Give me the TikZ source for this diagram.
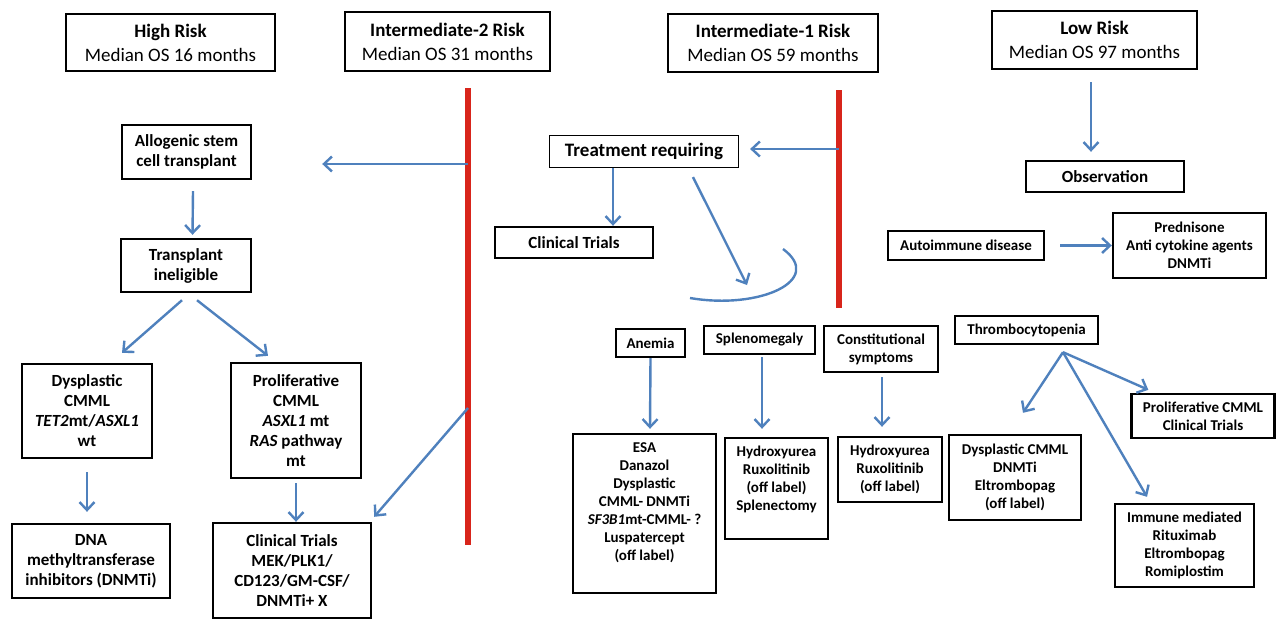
\documentclass[tikz,border=0pt]{standalone}
\usepackage{fontspec}
\setmainfont{Carlito}
\usetikzlibrary{arrows.meta}
\definecolor{arrblue}{RGB}{79,129,189}
\definecolor{riskred}{RGB}{216,37,27}
\begin{document}
\begin{tikzpicture}[x=1pt,y=-1pt,
  box/.style={draw, line width=2.4pt, align=center, inner sep=0pt},
  hdr/.style={box, font=\fontsize{19}{24}\selectfont},
  bl/.style={box, font=\bfseries\fontsize{17}{20}\selectfont},
  bs/.style={box, font=\bfseries\fontsize{15}{18}\selectfont},
  conn/.style={draw=arrblue, line width=2.4pt},
  arr/.style={conn, -{Straight Barb[length=8pt,width=15pt]}},
  redline/.style={draw=riskred, line width=6pt}]
\useasboundingbox[fill=white] (0,0) rectangle (1278,621);

% headers
\node[hdr, minimum width=209pt, minimum height=57pt] (high) at (170.5,42.5) {\textbf{High Risk}\\Median OS 16 months};
\node[hdr, minimum width=205pt, minimum height=59pt] (int2) at (447.5,41.5) {\textbf{Intermediate-2 Risk}\\Median OS 31 months};
\node[hdr, minimum width=210pt, minimum height=58pt] (int1) at (773,43) {\textbf{Intermediate-1 Risk}\\Median OS 59 months};
\node[hdr, minimum width=205pt, minimum height=58pt] (low) at (1094.5,40) {\textbf{Low Risk}\\Median OS 97 months};

% red separators
\coordinate (rlt) at (468,88);
\coordinate (rlb) at (468,545);
\coordinate (rrt) at (839,90);
\coordinate (rrb) at (839,308);
\draw[redline] (rlt) -- (rlb);
\draw[redline] (rrt) -- (rrb);

% left column
\node[bl, minimum width=129pt, minimum height=54pt] (allo) at (186.5,152) {Allogenic stem\\cell transplant};
\node[bl, minimum width=130pt, minimum height=53pt] (trans) at (186,265.5) {Transplant\\ineligible};
\node[bl, minimum width=130pt, minimum height=94pt] (dys) at (87,411) {Dysplastic\\CMML\\\textit{TET2}mt/\textit{ASXL1}\\wt};
\node[bl, minimum width=130pt, minimum height=115pt] (prolif) at (296,420.5) {Proliferative\\CMML\\\textit{ASXL1} mt\\\textit{RAS} pathway\\mt};
\node[bl, minimum width=158pt, minimum height=74pt] (dna) at (91,561) {DNA\\methyltransferase\\inhibitors (DNMTi)};
\node[bl, minimum width=158pt, minimum height=95pt] (ctl) at (292,570.5) {Clinical Trials\\MEK/PLK1/\\CD123/GM-CSF/\\DNMTi+ X};

\coordinate (rl1) at (468,164);
\coordinate (rl2) at (468,408);
\draw[arr, shorten >=70pt] (rl1) -- (allo.east |- rl1);
\draw[arr] ([xshift=6.5pt,yshift=-11pt]allo.south) -- ([xshift=6.5pt,yshift=3pt]trans.north);
\draw[arr] ([xshift=-4pt,yshift=-7pt]trans.south) -- ([xshift=35pt,yshift=10pt]dys.north);
\draw[arr] ([xshift=11pt,yshift=-7pt]trans.south) -- ([xshift=-28pt,yshift=6pt]prolif.north);
\draw[arr] ([yshift=-13pt]dys.south) -- ([xshift=-4pt,yshift=11pt]dna.north);
\draw[arr] ([yshift=-4pt]prolif.south) -- ([xshift=4pt]ctl.north);
\draw[arr] (rl2) -- ([xshift=2pt,yshift=5pt]ctl.north east);

% middle
\node[box, line width=1.2pt, font=\bfseries\fontsize{19}{22}\selectfont, minimum width=189pt, minimum height=32pt] (treat) at (644,151.5) {Treatment requiring};
\node[bl, minimum width=158pt, minimum height=31pt] (ctm) at (574,242.5) {Clinical Trials};
\coordinate (rr1) at (839,149);
\draw[arr, shorten >=11pt] (rr1) -- (treat.east |- rr1);
\draw[arr] ([xshift=-31pt]treat.south) -- ([xshift=39pt]ctm.north);
\coordinate (curvtip) at (747,285);
\draw[arr] ([xshift=49pt,yshift=-9pt]treat.south) -- (curvtip);
\coordinate (arcA) at (690,298);
\coordinate (arcB) at (783,249);
\draw[conn] (arcA) .. controls (760,310) and (825,280) .. (arcB);

% right top
\node[bl, minimum width=158pt, minimum height=31pt] (obs) at (1105,176.5) {Observation};
\node[bs, minimum width=156pt, minimum height=29pt] (auto) at (966,245.5) {Autoimmune disease};
\node[bs, minimum width=153pt, minimum height=65pt] (pred) at (1189.5,245.5) {Prednisone\\Anti cytokine agents\\DNMTi};
\draw[arr] ([xshift=-3.5pt,yshift=-12pt]low.south) -- ([xshift=-14pt,yshift=8pt]obs.north);
\draw[arr] ([xshift=15pt]auto.east) -- (pred.west);

% lower middle/right
\node[bs, minimum width=69pt, minimum height=28pt] (anemia) at (650.5,343) {Anemia};
\node[bs, minimum width=111pt, minimum height=28pt] (splen) at (759.5,340) {Splenomegaly};
\node[bs, minimum width=114pt, minimum height=46pt] (const) at (881,349) {Constitutional\\symptoms};
\node[bs, minimum width=143pt, minimum height=28pt] (thr) at (1026.5,330) {Thrombocytopenia};
\node[bs, minimum width=143pt, minimum height=159pt, text depth=24pt] (esa) at (644.5,513.5) {ESA\\Danazol\\Dysplastic\\CMML- DNMTi\\\textit{SF3B1}mt-CMML- ?\\Luspatercept\\(off label)};
\node[bs, minimum width=103pt, minimum height=101pt, text depth=20pt] (hyd1) at (776.5,488.5) {Hydroxyurea\\Ruxolitinib\\(off label)\\Splenectomy};
\node[bs, minimum width=104pt, minimum height=65pt] (hyd2) at (890,469.5) {Hydroxyurea\\Ruxolitinib\\(off label)};
\node[bs, minimum width=132pt, minimum height=85pt] (dysR) at (1015,477.5) {Dysplastic CMML\\DNMTi\\Eltrombopag\\(off label)};
\node[bs, minimum width=143pt, minimum height=44pt] (prolR) at (1203,416) {Proliferative CMML\\Clinical Trials};
\node[bs, minimum width=139pt, minimum height=83pt] (imm) at (1184.5,545.5) {Immune mediated\\Rituximab\\Eltrombopag\\Romiplostim};

\draw[arr] (anemia.south) -- ([xshift=5.5pt,yshift=4pt]esa.north);
\draw[arr] ([xshift=2.5pt,yshift=-2pt]splen.south) -- ([xshift=-14.5pt,yshift=8pt]hyd1.north);
\draw[arr] ([xshift=1pt,yshift=-4pt]const.south) -- ([xshift=-8pt,yshift=9pt]hyd2.north);
\coordinate (thrs) at ([xshift=36.5pt,yshift=-7pt]thr.south);
\draw[arr] (thrs) -- ([xshift=8pt,yshift=21pt]dysR.north);
\draw[arr] (thrs) -- ([xshift=18pt,yshift=3pt]prolR.north west);
\draw[arr] (thrs) -- ([xshift=-37.5pt,yshift=6pt]imm.north);
\end{tikzpicture}
\end{document}
